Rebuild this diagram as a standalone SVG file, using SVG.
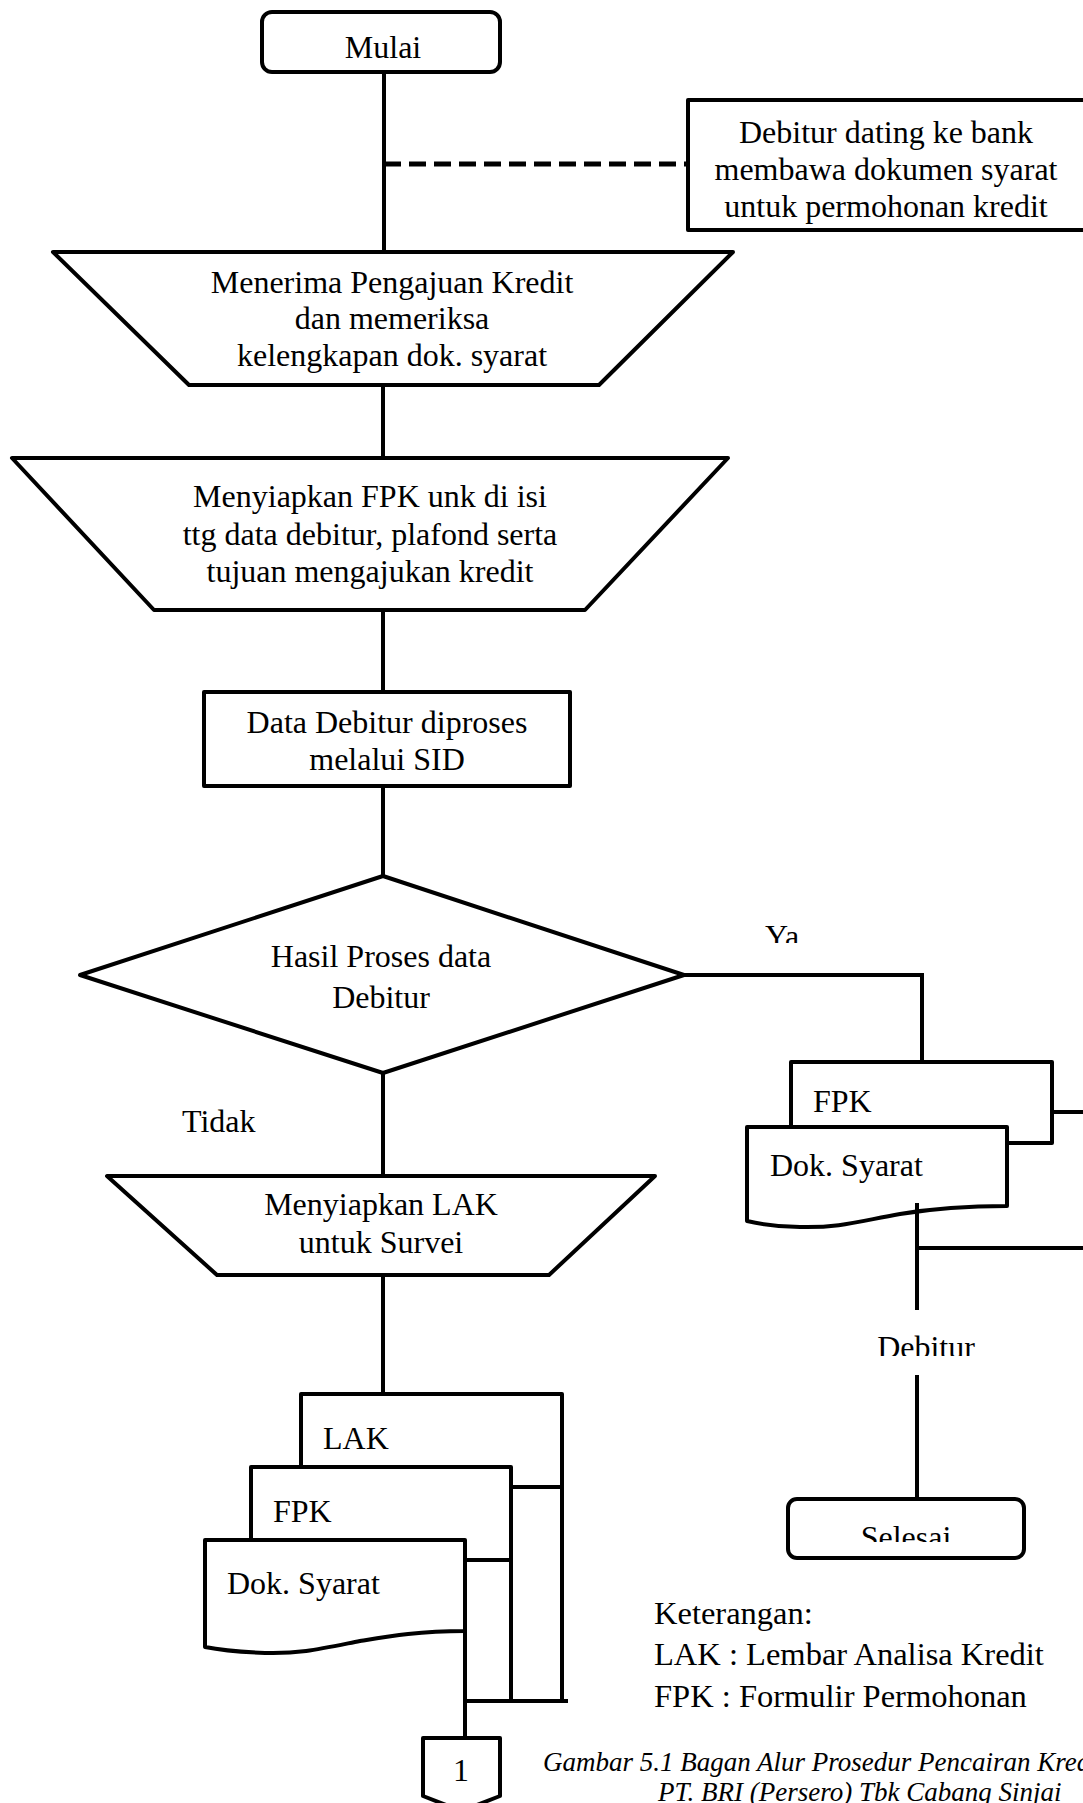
<svg xmlns="http://www.w3.org/2000/svg" width="1083" height="1803" viewBox="0 0 1083 1803">
<style>
.s{fill:#fff;stroke:#000;stroke-width:4;stroke-linejoin:round}
.l{fill:none;stroke:#000;stroke-width:4}
.d{fill:none;stroke:#000;stroke-width:5;stroke-dasharray:17 8}
text{font-family:"Liberation Serif","Times New Roman",serif;font-size:32px;fill:#000}
.c{text-anchor:middle}
.k{font-size:32.5px}
.cap{font-size:27px;font-style:italic}
</style>
<defs>
<clipPath id="clipYa"><rect x="700" y="900" width="200" height="43"/></clipPath>
<clipPath id="clipDeb"><rect x="850" y="1300" width="200" height="56"/></clipPath>
<clipPath id="clipSel"><rect x="790" y="1500" width="230" height="42"/></clipPath>
</defs>
<rect width="1083" height="1803" fill="#fff"/>
<g id="connectors">
<line class="l" x1="384" y1="72" x2="384" y2="252"/>
<line class="d" x1="384" y1="164" x2="688" y2="164"/>
<line class="l" x1="383" y1="385" x2="383" y2="458"/>
<line class="l" x1="383" y1="610" x2="383" y2="692"/>
<line class="l" x1="383" y1="786" x2="383" y2="876"/>
<polyline class="l" points="684,975 922,975 922,1062"/>
<line class="l" x1="383" y1="1073" x2="383" y2="1176"/>
<line class="l" x1="383" y1="1275" x2="383" y2="1394"/>
<line class="l" x1="1052" y1="1112" x2="1083" y2="1112"/>
<line class="l" x1="917" y1="1248" x2="1083" y2="1248"/>
<line class="l" x1="917" y1="1375" x2="917" y2="1499"/>
<line class="l" x1="562" y1="1487" x2="562" y2="1701"/>
<line class="l" x1="511" y1="1560" x2="511" y2="1701"/>
<line class="l" x1="465" y1="1631" x2="465" y2="1738"/>
<line class="l" x1="465" y1="1701" x2="568" y2="1701"/>
</g>
<g id="mulai">
<rect class="s" x="262" y="12" width="238" height="60" rx="10"/>
<text class="c" x="383" y="58">Mulai</text>
</g>
<g id="debitur-datang">
<rect class="s" x="688" y="100" width="400" height="130"/>
<text class="c" x="886" y="143">Debitur dating ke bank</text>
<text class="c" x="886" y="180">membawa dokumen syarat</text>
<text class="c" x="886" y="217">untuk permohonan kredit</text>
</g>
<g id="menerima">
<polygon class="s" points="53,252 733,252 599,385 189,385"/>
<text class="c" x="392" y="293">Menerima Pengajuan Kredit</text>
<text class="c" x="392" y="329">dan memeriksa</text>
<text class="c" x="392" y="366">kelengkapan dok. syarat</text>
</g>
<g id="menyiapkan-fpk">
<polygon class="s" points="12,458 728,458 585,610 154,610"/>
<text class="c" x="370" y="507">Menyiapkan FPK unk di isi</text>
<text class="c" x="370" y="545">ttg data debitur, plafond serta</text>
<text class="c" x="370" y="582">tujuan mengajukan kredit</text>
</g>
<g id="data-debitur">
<rect class="s" x="204" y="692" width="366" height="94"/>
<text class="c" x="387" y="733">Data Debitur diproses</text>
<text class="c" x="387" y="770">melalui SID</text>
</g>
<g id="hasil-proses">
<polygon class="s" points="383,876 684,975 383,1073 80,975"/>
<text class="c" x="381" y="967">Hasil Proses data</text>
<text class="c" x="381" y="1008">Debitur</text>
</g>
<g id="label-ya"><text x="765" y="947" clip-path="url(#clipYa)">Ya</text></g>
<g id="label-tidak"><text x="182" y="1132">Tidak</text></g>
<g id="dok-kanan">
<rect class="s" x="791" y="1062" width="261" height="81"/>
<text x="813" y="1112">FPK</text>
<path class="s" d="M747,1127 H1007 V1206 C960,1206 930,1209 900,1214 C860,1221 840,1228 800,1227 C780,1227 760,1224 747,1221 Z"/>
<text x="770" y="1176">Dok. Syarat</text>
</g>
<line class="l" x1="917" y1="1203" x2="917" y2="1310"/>
<g id="label-debitur"><text class="c" x="926" y="1358" clip-path="url(#clipDeb)">Debitur</text></g>
<g id="selesai">
<rect class="s" x="788" y="1499" width="236" height="59" rx="9"/>
<text class="c" x="906" y="1548" clip-path="url(#clipSel)">Selesai</text>
</g>
<g id="menyiapkan-lak">
<polygon class="s" points="107,1176 655,1176 549,1275 217,1275"/>
<text class="c" x="381" y="1215">Menyiapkan LAK</text>
<text class="c" x="381" y="1253">untuk Survei</text>
</g>
<g id="dok-kiri">
<rect class="s" x="301" y="1394" width="261" height="93"/>
<text x="323" y="1449">LAK</text>
<rect class="s" x="251" y="1467" width="260" height="93"/>
<text x="273" y="1522">FPK</text>
<path class="s" d="M205,1540 H465 V1631 C418,1631 390,1636 360,1641 C320,1649 300,1654 265,1653 C240,1652 220,1650 205,1647 Z"/>
<text x="227" y="1594">Dok. Syarat</text>
</g>
<g id="konektor-1">
<path class="s" d="M423,1738 H500 V1796 L461.5,1811 L423,1796 Z"/>
<text class="c" x="461" y="1781">1</text>
</g>
<g id="keterangan">
<text class="k" x="654" y="1624">Keterangan:</text>
<text class="k" x="654" y="1665">LAK : Lembar Analisa Kredit</text>
<text class="k" x="654" y="1707">FPK : Formulir Permohonan</text>
</g>
<g id="caption">
<text class="cap" x="543" y="1771">Gambar 5.1 Bagan Alur Prosedur Pencairan Kredit</text>
<text class="cap" x="658" y="1801">PT. BRI (Persero) Tbk Cabang Sinjai</text>
</g>
</svg>
